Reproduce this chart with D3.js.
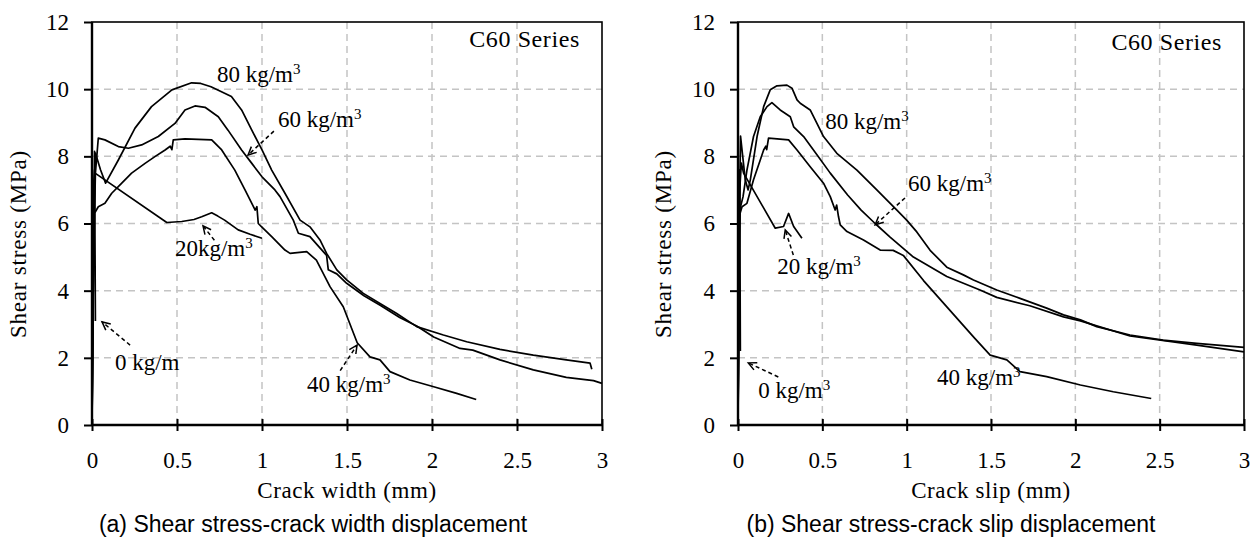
<!DOCTYPE html>
<html>
<head>
<meta charset="utf-8">
<script src="https://cdn.jsdelivr.net/npm/d3@7"></script>
<style>
  body { margin: 0; background: #fff; }
  svg { display: block; }
</style>
</head>
<body>
<script>
// ticks
const xTicks = [0, 0.5, 1, 1.5, 2, 2.5, 3];
const yTicks = [0, 2, 4, 6, 8, 10, 12];

// (a) shear stress vs crack width  [w (mm), stress (MPa)]
const widthC0 = [[0, 0], [0.008, 4.5], [0.015, 8.15], [0.02, 3.1]];
const widthC20 = [[0, 0], [0.01, 7.2], [0.015, 7.6], [0.018, 7.5], [0.44, 6.03], [0.528, 6.06],
  [0.6, 6.12], [0.645, 6.2], [0.704, 6.32], [0.74, 6.22], [0.78, 6.1], [0.86, 5.81], [0.93, 5.68], [1.0, 5.56]];
const widthC40 = [[0, 0], [0.004, 4.0], [0.008, 6.3], [0.02, 6.35], [0.037, 6.5], [0.076, 6.6], [0.116, 6.9],
  [0.175, 7.2], [0.233, 7.5], [0.312, 7.79], [0.37, 7.99], [0.43, 8.19], [0.46, 8.3], [0.47, 8.2], [0.478, 8.49],
  [0.547, 8.52], [0.704, 8.49], [0.763, 8.19], [0.84, 7.59], [0.9, 7.0], [0.94, 6.6], [0.96, 6.4], [0.97, 6.5],
  [0.978, 6.0], [0.998, 5.9], [1.057, 5.61], [1.135, 5.21], [1.165, 5.11], [1.263, 5.16], [1.32, 4.91],
  [1.4, 4.12], [1.478, 3.52], [1.56, 2.45], [1.635, 2.03], [1.694, 1.94], [1.753, 1.59], [1.87, 1.34],
  [2.01, 1.14], [2.145, 0.94], [2.26, 0.76]];
const widthC60 = [[0, 0], [0.01, 5.0], [0.02, 7.5], [0.037, 8.54], [0.076, 8.49], [0.155, 8.29], [0.214, 8.24],
  [0.292, 8.34], [0.39, 8.59], [0.488, 8.98], [0.547, 9.38], [0.606, 9.5], [0.665, 9.46], [0.743, 9.18],
  [0.8, 8.78], [0.88, 8.19], [0.94, 7.79], [1.0, 7.39], [1.076, 7.0], [1.106, 6.8], [1.184, 6.1], [1.214, 5.71],
  [1.282, 5.61], [1.38, 5.05], [1.39, 4.62], [1.44, 4.5], [1.498, 4.22], [1.6, 3.85], [1.7, 3.55], [1.81, 3.2],
  [1.91, 2.95], [2.01, 2.62], [2.165, 2.28], [2.24, 2.23], [2.4, 1.94], [2.596, 1.64], [2.79, 1.42],
  [2.95, 1.32], [3.0, 1.24]];
const widthC80 = [[0, 0], [0.01, 6.0], [0.02, 8.1], [0.05, 7.6], [0.08, 7.2], [0.155, 7.89], [0.253, 8.84],
  [0.35, 9.48], [0.47, 9.98], [0.586, 10.19], [0.64, 10.17], [0.7, 10.07], [0.78, 9.88], [0.82, 9.78],
  [0.88, 9.38], [0.94, 8.78], [1.0, 8.19], [1.057, 7.59], [1.135, 6.9], [1.224, 6.1], [1.282, 5.9],
  [1.341, 5.51], [1.38, 5.11], [1.44, 4.62], [1.498, 4.32], [1.596, 3.92], [1.694, 3.62], [1.79, 3.33],
  [1.91, 2.93], [2.067, 2.68], [2.204, 2.48], [2.4, 2.25], [2.596, 2.08], [2.79, 1.94], [2.93, 1.84], [2.94, 1.66]];

// (b) shear stress vs crack slip  [slip (mm), stress (MPa)]
const slipC0 = [[0, 0], [0.005, 5.0], [0.01, 7.6], [0.014, 2.2]];
const slipC20 = [[0, 0], [0.01, 7.0], [0.02, 7.8], [0.033, 7.5], [0.221, 5.86], [0.27, 5.91], [0.3, 6.3],
  [0.33, 5.91], [0.379, 5.56]];
const slipC40 = [[0, 0], [0.005, 5.5], [0.012, 6.3], [0.024, 6.5], [0.053, 6.6], [0.092, 7.3], [0.132, 7.89],
  [0.152, 8.19], [0.165, 8.3], [0.17, 8.2], [0.181, 8.54], [0.3, 8.49], [0.35, 8.19], [0.428, 7.69],
  [0.507, 7.2], [0.547, 6.8], [0.576, 6.4], [0.585, 6.55], [0.596, 6.2], [0.606, 5.96], [0.646, 5.76],
  [0.744, 5.51], [0.843, 5.21], [0.92, 5.2], [0.98, 5.05], [1.1, 4.3], [1.25, 3.45], [1.4, 2.6], [1.495, 2.08],
  [1.594, 1.94], [1.672, 1.59], [1.83, 1.44], [2.03, 1.19], [2.225, 0.99], [2.45, 0.79]];
const slipC60 = [[0, 0], [0.01, 6.4], [0.03, 6.8], [0.053, 7.59], [0.092, 8.59], [0.132, 9.18], [0.172, 9.48],
  [0.201, 9.6], [0.25, 9.38], [0.31, 9.18], [0.33, 8.88], [0.389, 8.59], [0.468, 8.05], [0.547, 7.5],
  [0.65, 6.85], [0.73, 6.4], [0.813, 6.0], [0.9, 5.6], [1.04, 5.0], [1.238, 4.42], [1.435, 4.02], [1.534, 3.8],
  [1.73, 3.55], [1.93, 3.22], [2.03, 3.1], [2.324, 2.65], [2.72, 2.38], [3.0, 2.18]];
const slipC80 = [[0, 0], [0.008, 6.0], [0.015, 8.6], [0.043, 7.3], [0.06, 7.0], [0.073, 7.3], [0.113, 8.59],
  [0.152, 9.48], [0.191, 9.98], [0.231, 10.1], [0.29, 10.12], [0.32, 10.03], [0.35, 9.68], [0.369, 9.58],
  [0.428, 9.38], [0.468, 8.98], [0.507, 8.59], [0.586, 8.09], [0.705, 7.59], [0.823, 7.0], [0.942, 6.4],
  [1.0, 6.1], [1.06, 5.75], [1.139, 5.2], [1.238, 4.7], [1.336, 4.47], [1.396, 4.32], [1.534, 4.02],
  [1.672, 3.77], [1.83, 3.48], [1.93, 3.28], [2.03, 3.13], [2.127, 2.93], [2.324, 2.68], [2.52, 2.53],
  [2.72, 2.43], [3.0, 2.31]];

const serif = '"Liberation Serif", "Times New Roman", serif';
const sans = '"Liberation Sans", Arial, sans-serif';

const svg = d3.select('body')
  .append('svg')
  .attr('width', 1258)
  .attr('height', 545);

const panels = [
  {
    left: 92, right: 602,
    curves: [widthC0, widthC20, widthC40, widthC60, widthC80],
    xTitle: 'Crack width (mm)',
    yTitleX: 18,
    caption: '(a) Shear stress-crack width displacement',
    captionX: 313,
    labels: [
      { text: '80 kg/m', sup: true, at: [0.735, 10.21] },
      { text: '60 kg/m', sup: true, at: [1.094, 8.87], from: [1.07, 8.75], to: [0.918, 8.04] },
      { text: '20kg/m', sup: true, at: [0.488, 5.03], from: [0.72, 5.5], to: [0.653, 5.93] },
      { text: '40 kg/m', sup: true, at: [1.265, 0.98], from: [1.46, 1.62], to: [1.559, 2.38] },
      { text: '0 kg/m', sup: false, at: [0.135, 1.64], from: [0.224, 2.38], to: [0.059, 3.07] }
    ],
    series: [2.87, 11.26]
  },
  {
    left: 738, right: 1244,
    curves: [slipC0, slipC20, slipC40, slipC60, slipC80],
    xTitle: 'Crack slip (mm)',
    yTitleX: 663,
    caption: '(b) Shear stress-crack slip displacement',
    captionX: 951,
    labels: [
      { text: '80 kg/m', sup: true, at: [0.517, 8.81] },
      { text: '60 kg/m', sup: true, at: [1.008, 6.97], from: [0.99, 6.76], to: [0.813, 5.96] },
      { text: '20 kg/m', sup: true, at: [0.233, 4.5], from: [0.328, 5.06], to: [0.28, 5.81] },
      { text: '40 kg/m', sup: true, at: [1.18, 1.19] },
      { text: '0 kg/m', sup: true, at: [0.12, 0.8], from: [0.239, 1.43], to: [0.061, 1.85] }
    ],
    series: [2.87, 11.17]
  }
];

panels.forEach(drawPanel);

function drawPanel(p) {
  const top = 22, bottom = 425;

  const x = d3.scaleLinear().domain([0, 3]).range([p.left, p.right]);
  const y = d3.scaleLinear().domain([0, 12]).range([bottom, top]);

  const g = svg.append('g');

  // grid
  g.selectAll('.vgrid')
    .data(xTicks.filter(d => d > 0 && d < 3))
    .enter().append('line')
    .attr('x1', d => x(d)).attr('x2', d => x(d))
    .attr('y1', top).attr('y2', bottom)
    .attr('stroke', '#c4c4c4')
    .attr('stroke-width', 1.5)
    .attr('stroke-dasharray', '7,5');

  g.selectAll('.hgrid')
    .data(yTicks.filter(d => d > 0 && d < 12))
    .enter().append('line')
    .attr('x1', p.left).attr('x2', p.right)
    .attr('y1', d => y(d)).attr('y2', d => y(d))
    .attr('stroke', '#c4c4c4')
    .attr('stroke-width', 1.5)
    .attr('stroke-dasharray', '7,5');

  // curves
  const line = d3.line()
    .x(d => x(d[0]))
    .y(d => y(d[1]));

  g.selectAll('.curve')
    .data(p.curves)
    .enter().append('path')
    .attr('d', line)
    .attr('fill', 'none')
    .attr('stroke', '#000')
    .attr('stroke-width', 1.7)
    .attr('stroke-linejoin', 'round');

  // frame
  g.append('rect')
    .attr('x', p.left).attr('y', top)
    .attr('width', p.right - p.left).attr('height', bottom - top)
    .attr('fill', 'none')
    .attr('stroke', '#000')
    .attr('stroke-width', 1.6);

  // y axis
  const yAxis = g.append('g')
    .attr('transform', 'translate(' + p.left + ',0)')
    .call(d3.axisLeft(y).tickValues(yTicks).tickSize(8).tickPadding(15));
  yAxis.select('.domain').attr('stroke-width', 2.4).attr('d', 'M0,' + top + 'V' + bottom);
  yAxis.selectAll('line').attr('stroke-width', 2);
  yAxis.selectAll('text')
    .style('font-family', serif)
    .style('font-size', '23px')
    .attr('fill', '#000');

  // x axis, ticks cross the axis
  const xAxis = g.append('g')
    .attr('transform', 'translate(0,' + bottom + ')')
    .call(d3.axisBottom(x).tickValues(xTicks).tickFormat(d3.format('')).tickSize(6).tickPadding(21));
  xAxis.select('.domain').attr('stroke-width', 2.4).attr('d', 'M' + p.left + ',0H' + p.right);
  xAxis.selectAll('line').attr('y1', -6).attr('y2', 6).attr('stroke-width', 2);
  xAxis.selectAll('text')
    .style('font-family', serif)
    .style('font-size', '23px')
    .attr('fill', '#000');

  // titles
  g.append('text')
    .attr('x', (p.left + p.right) / 2)
    .attr('y', 498)
    .attr('text-anchor', 'middle')
    .style('font-family', serif)
    .style('font-size', '23px')
    .style('letter-spacing', '0.6px')
    .text(p.xTitle);

  g.append('text')
    .attr('transform', 'translate(' + (p.yTitleX + 8) + ',' + 244 + ') rotate(-90)')
    .attr('text-anchor', 'middle')
    .style('font-family', serif)
    .style('font-size', '23px')
    .style('letter-spacing', '0.8px')
    .text('Shear stress (MPa)');

  g.append('text')
    .attr('x', p.captionX)
    .attr('y', 532)
    .attr('text-anchor', 'middle')
    .style('font-family', sans)
    .style('font-size', '23px')
    .text(p.caption);

  g.append('text')
    .attr('x', x(p.series[0]))
    .attr('y', y(p.series[1]))
    .attr('text-anchor', 'end')
    .style('font-family', serif)
    .style('font-size', '24px')
    .style('letter-spacing', '0.6px')
    .text('C60 Series');

  // labels
  p.labels.forEach(function (l) {
    const t = g.append('text')
      .attr('x', x(l.at[0]))
      .attr('y', y(l.at[1]))
      .style('font-family', serif)
      .style('font-size', '23px')
      .text(l.text);
    if (l.sup) {
      t.append('tspan')
        .attr('dy', -8)
        .style('font-size', '15px')
        .text('3');
    }
    if (l.from) {
      const x1 = x(l.from[0]), y1 = y(l.from[1]);
      const x2 = x(l.to[0]), y2 = y(l.to[1]);
      g.append('line')
        .attr('x1', x1).attr('y1', y1)
        .attr('x2', x2).attr('y2', y2)
        .attr('stroke', '#000')
        .attr('stroke-width', 1.5)
        .attr('stroke-dasharray', '4,3');
      const a = Math.atan2(y1 - y2, x1 - x2);
      const len = 9, spread = 0.45;
      g.append('path')
        .attr('d', 'M' + (x2 + len * Math.cos(a - spread)) + ',' + (y2 + len * Math.sin(a - spread)) +
          'L' + x2 + ',' + y2 +
          'L' + (x2 + len * Math.cos(a + spread)) + ',' + (y2 + len * Math.sin(a + spread)))
        .attr('fill', 'none')
        .attr('stroke', '#000')
        .attr('stroke-width', 1.5);
    }
  });
}
</script>
</body>
</html>
